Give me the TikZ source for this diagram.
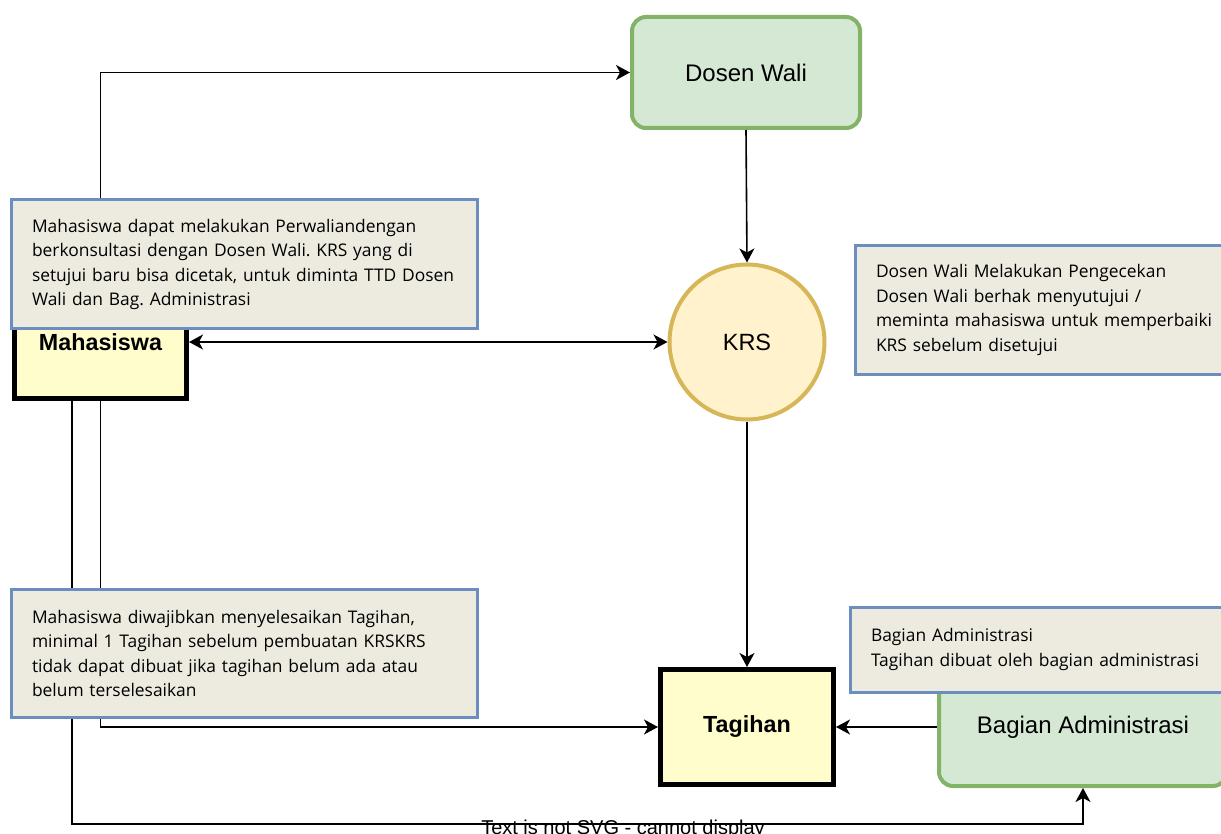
\documentclass[tikz,border=0pt]{standalone}
\usepackage{fontspec}
\setmainfont{Liberation Sans}
\newfontfamily\notefont{Open Sans}
\usetikzlibrary{arrows.meta}
\frenchspacing

\definecolor{walifill}{HTML}{D5E8D4}
\definecolor{walidraw}{HTML}{82B366}
\definecolor{krsfill}{HTML}{FFF2CC}
\definecolor{krsdraw}{HTML}{D6B656}
\definecolor{boxfill}{HTML}{FFFDCC}
\definecolor{notefill}{HTML}{EDEBE0}
\definecolor{notedraw}{HTML}{6C8EBF}

\tikzset{
  actor/.style={draw=walidraw,fill=walifill,line width=4pt,rounded corners=14pt,inner sep=0pt,
    font=\fontsize{24}{28}\selectfont},
  entity/.style={draw=black,fill=boxfill,line width=5pt,inner sep=0pt,
    font=\bfseries\fontsize{23.3}{27}\selectfont},
  process/.style={circle,draw=krsdraw,fill=krsfill,line width=4pt,inner sep=0pt,
    minimum size=155pt,font=\fontsize{23.5}{27}\selectfont},
  note/.style={draw=notedraw,fill=notefill,line width=3pt,align=left,inner xsep=21pt,inner ysep=0pt,
    font=\notefont\fontsize{17.4}{24.5}\selectfont},
  flow/.style={-{Stealth[length=14pt,width=15pt,inset=4pt]},line width=1.6pt},
  twoway/.style={{Stealth[length=14pt,width=15pt,inset=4pt]}-{Stealth[length=14pt,width=15pt,inset=4pt]},line width=1.6pt}
}

\begin{document}
\begin{tikzpicture}[x=1pt,y=-1pt]
      \useasboundingbox (0,0) rectangle (1221,834);
      \clip (0,0) rectangle (1221,834);

      \node [actor,minimum width=228pt,minimum height=111pt] (wali) at (746,72.5) {Dosen Wali};
      \node [process] (krs) at (747,342) {KRS};
      \node [entity,minimum width=172pt,minimum height=113pt] (mhs) at (100.5,342) {Mahasiswa};
      \node [entity,minimum width=173pt,minimum height=115pt] (tag) at (747,727) {Tagihan};
      \node [actor,minimum width=288pt,minimum height=118pt] (adm) at (1083,727) {Bagian Administrasi};

      \coordinate (bend) at (72,824);

      \draw [flow] (mhs.north) |- (wali.west);
      \draw [flow] (wali.south) -- (krs.north);
      \draw [twoway] (mhs.east) -- (krs.west);
      \draw [flow] (krs.south) -- (tag.north);
      \draw [flow] (mhs.south) |- (tag.west);
      \draw [flow] (mhs.south -| bend) -- (bend) -| (adm.south);
      \draw [flow] (adm.west) -- (tag.east);

      \node [note,text width=424.5pt,minimum height=128.5pt] (n1) at (244.25,264.25)
        {Mahasiswa dapat melakukan Perwaliandengan\\ berkonsultasi dengan Dosen Wali. KRS yang di\\
         setujui baru bisa dicetak, untuk diminta TTD Dosen\\ Wali dan Bag. Administrasi};
      \node [note,text width=424pt,minimum height=128pt] (n2) at (1088,310)
        {Dosen Wali Melakukan Pengecekan\\ Dosen Wali berhak menyutujui /\\
         meminta mahasiswa untuk memperbaiki\\ KRS sebelum disetujui};
      \node [note,text width=424.5pt,minimum height=128.5pt] (n3) at (244.25,653.25)
        {Mahasiswa diwajibkan menyelesaikan Tagihan,\\ minimal 1 Tagihan sebelum pembuatan KRSKRS\\
         tidak dapat dibuat jika tagihan belum ada atau\\ belum terselesaikan};
      \node [note,text width=424pt,minimum height=85pt] (n4) at (1083,649.5)
        {Bagian Administrasi\\ Tagihan dibuat oleh bagian administrasi};

      \node [anchor=base,inner sep=0pt,font=\fontsize{20}{23}\selectfont] (svg) at (623,834.5)
        {Text is not SVG - cannot display};

    \end{tikzpicture}
\end{document}
